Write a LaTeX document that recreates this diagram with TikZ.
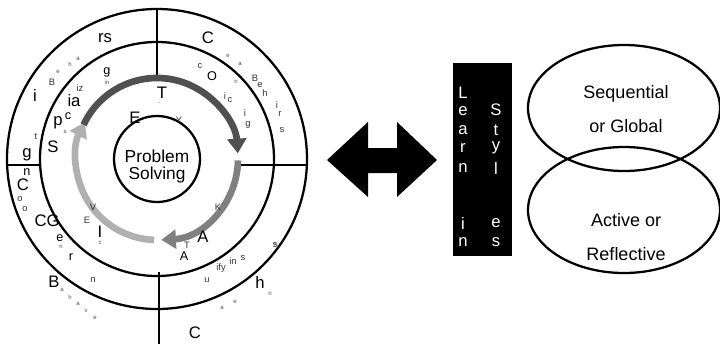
\documentclass[tikz,border=0pt]{standalone}
\usepackage{fontspec}
\setmainfont{Liberation Sans}
\usepackage{tikz}
\usetikzlibrary{calc,arrows.meta}
\usepackage{xcolor}

\definecolor{arcdark}{HTML}{505050}
\definecolor{arcmid}{HTML}{808080}
\definecolor{arclight}{HTML}{B0B0B0}

\tikzset{
  ring/.style={line width=1.7pt},
  cyclearc/.style={line width=5pt, -{Triangle[length=11pt,width=14pt]}},
  bigletter/.style={inner sep=0pt, font=\fontsize{12.5}{13}\selectfont},
  midletter/.style={inner sep=0pt, font=\fontsize{9.5}{10}\selectfont},
  smallletter/.style={inner sep=0pt, text=black!80, font=\fontsize{7}{7}\selectfont},
  tinyletter/.style={inner sep=0pt, text=black!70, font=\fontsize{4.5}{5}\selectfont},
  boxletter/.style={inner sep=0pt, text=white, font=\fontsize{12.5}{13}\selectfont},
  bubbletext/.style={align=center, font=\fontsize{13.5}{26}\selectfont}
}

\begin{document}
\begin{tikzpicture}[x=0.75pt, y=0.75pt]
  \useasboundingbox (0,0) rectangle (720,344);

  % rings round the problem
  \coordinate (ctr) at (157,185);
  \draw[ring] (ctr) circle[radius=112.5pt];
  \draw[ring] (ctr) circle[radius=87.75pt];
  \draw[ring] (ctr) circle[radius=32.25pt];

  % dividing strokes
  \draw[ring] ($(ctr)+(0,150)$) -- ($(ctr)+(0,81)$);
  \draw[ring] ($(ctr)+(-150,-6)$) -- ($(ctr)+(-117,-6)$);
  \draw[ring] ($(ctr)+(81,-6)$) -- ($(ctr)+(150,-6)$);
  \draw[ring] ($(ctr)+(2,-113)$) -- ($(ctr)+(2,-185)$);

  % the cycle arrows
  \draw[cyclearc, arclight] (ctr) ++(268:60.75pt) arc[start angle=268, end angle=153, radius=60.75pt];
  \draw[cyclearc, arcmid] (ctr) ++(-1:60.75pt) arc[start angle=-1, end angle=-87, radius=60.75pt];
  \draw[cyclearc, arcdark] (ctr) ++(155:60.75pt) arc[start angle=155, end angle=4, radius=60.75pt];

  \node[align=center, font=\fontsize{13}{12.75}\selectfont] (problem) at (157,177) {Problem\\Solving};

  % scattered letters
  \foreach \t/\x/\y [count=\i] in {rs/105/306, i/35/249, ia/74/243, p/58/221, S/53/197,
      g/27/189, C/23/159, CG/47/123, I/100/112, B/54/62, T/162/251, E/135/226,
      C/208/306, A/203/107, h/260/62, C/195/11}
    \node[bigletter] (big\i) at (\x,\y) {\t};
  \foreach \t/\x/\y [count=\i] in {g/107/272, c/68/228, n/27/172, e/60/106, r/71/87,
      O/212/268, A/184/88}
    \node[midletter] (mid\i) at (\x,\y) {\t};
  \foreach \t/\x/\y [count=\i] in {B/52/262, iz/80/256, t/36/207, o/20/145, o/25/135,
      V/93/137, E/87/124, n/93/64, Y/179/224, B/255/266, h/265/251, e/260/259,
      i/277/239, r/280/230, s/282/214, K/218/137, u/207/64, c/200/278, i/225/248,
      c/230/244, i/245/231, g/248/219, s/275/99, T/187/99, in/233/83, ify/221/76, s/243/86}
    \node[smallletter] (small\i) at (\x,\y) {\t};
  \foreach \t/\x/\y [count=\i] in {e/58/272, h/70/280, a/78/285, in/107/262, s/65/212,
      n/61/97, c/100/101, -/159/240, a/62/54, h/70/47, a/78/40, v/86/33, e/95/26,
      e/235/42, a/222/36, n/270/50, e/228/288, a/240/280, h/276/100, n/236/262}
    \node[tinyletter] (tiny\i) at (\x,\y) {\t};

  % two-way arrow
  \fill (327,184) -- (368,222) -- (368,196) -- (397,196) -- (397,222) -- (437,184)
     -- (397,147) -- (397,171) -- (368,171) -- (368,147) -- cycle;

  % learning styles strip
  \node[fill=black, minimum width=44.25pt, minimum height=144.75pt, inner sep=0pt] (lsbox) at (482.5,184.5) {};
  \foreach \t/\y [count=\i] in {L/251, e/233, a/214, r/196, n/176, i/121, n/102}
    \node[boxletter] (left\i) at (463,\y) {\t};
  \foreach \t/\y [count=\i] in {S/234, t/214, y/196, l/176, e/121, s/102}
    \node[boxletter] (right\i) at (496,\y) {\t};

  % the two bubbles
  \draw[ring] (624,236) ellipse[x radius=72pt, y radius=47.25pt];
  \draw[ring] (624,134) ellipse[x radius=72pt, y radius=47.25pt];
  \node[bubbletext] (seq) at (626,235) {Sequential\\or Global};
  \node[bubbletext] (act) at (626,107) {Active or\\Reflective};

\end{tikzpicture}
\end{document}
